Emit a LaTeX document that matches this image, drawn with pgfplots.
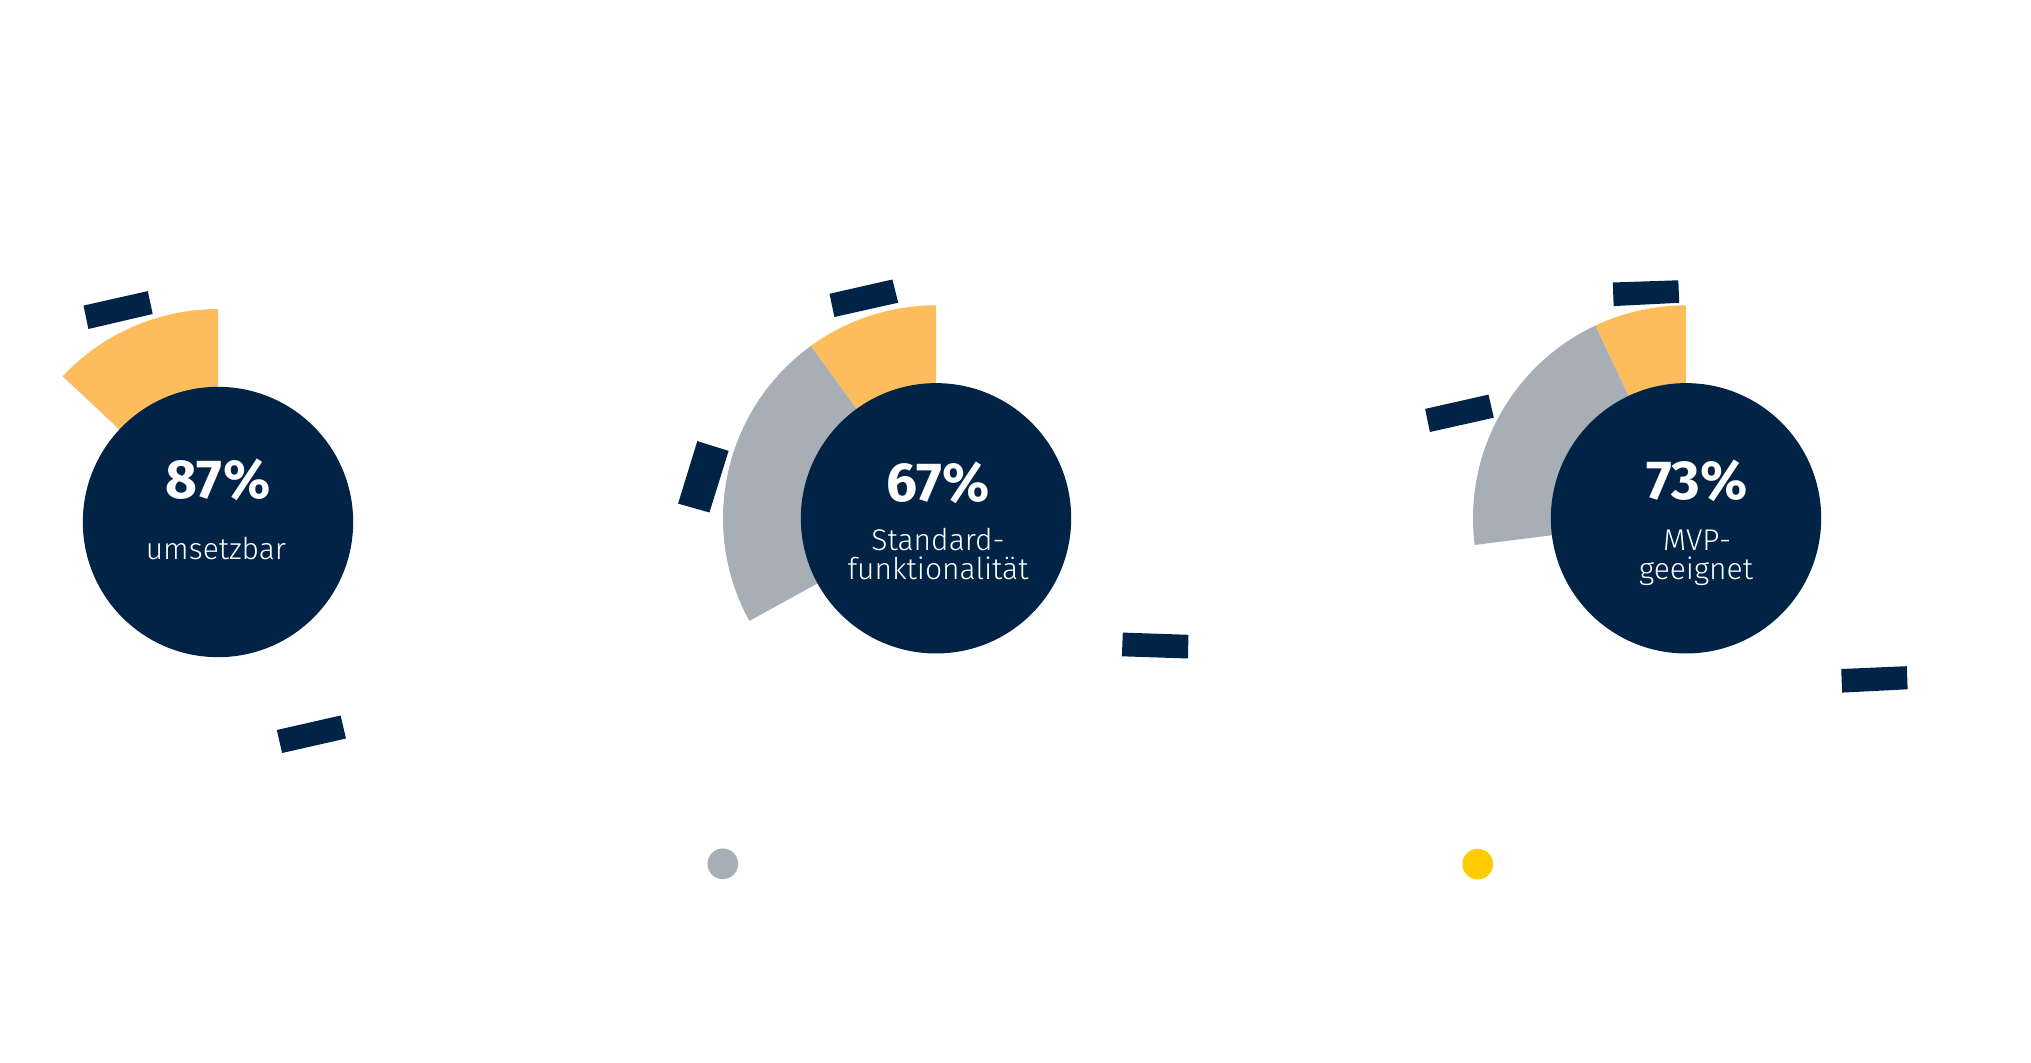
\documentclass[border=0pt]{standalone}
\usepackage{fontspec}
\setmainfont{Fira Sans}
\IfFontExistsTF{Fira Sans Light}{\newfontfamily\lightfont{Fira Sans Light}}{\newcommand\lightfont{}}
\usepackage{pgfplots}
\usepackage{pgfplotstable}
\pgfplotsset{compat=1.18}

\definecolor{navy}{RGB}{1,35,70}
\definecolor{sunorange}{RGB}{253,189,93}
\definecolor{slategrey}{RGB}{168,174,181}
\definecolor{dotyellow}{RGB}{255,204,0}

% one row per chart: centre (px, y up), remaining share split in orange and grey
\pgfplotstableread{
cx    cy     orange grey pct
218   540    13     0    87
936   543.7  10     23   67
1686  543.7  7      20   73
}\charts

\def\unit{0.3}   % pt per pixel
\def\rout{213}   % outer radius of the sectors, px

\begin{document}
\begin{tikzpicture}
\begin{axis}[
  x=\unit pt, y=\unit pt,
  xmin=0, xmax=2031, ymin=0, ymax=1062,
  hide axis, clip=false, clip mode=individual
]
\path (axis cs:0,0) rectangle (axis cs:2031,1062);

% sectors
\pgfplotsinvokeforeach{0,1,2}{
  \pgfplotstablegetelem{#1}{cx}\of\charts \let\cx\pgfplotsretval
  \pgfplotstablegetelem{#1}{cy}\of\charts \let\cy\pgfplotsretval
  \pgfplotstablegetelem{#1}{orange}\of\charts \let\po\pgfplotsretval
  \pgfplotstablegetelem{#1}{grey}\of\charts \let\pg\pgfplotsretval
  \pgfmathsetmacro\aA{90+3.6*\po}
  \pgfmathsetmacro\aB{\aA+3.6*\pg}
  \pgfmathsetmacro\R{\rout*\unit}
  \edef\doit{%
    \noexpand\fill[sunorange] (axis cs:\cx,\cy) -- ++(90:\R pt)
      arc[start angle=90, end angle=\aA, radius=\R pt] -- cycle;
    \noexpand\fill[slategrey] (axis cs:\cx,\cy) -- ++(\aA:\R pt)
      arc[start angle=\aA, end angle=\aB, radius=\R pt] -- cycle;
  }\doit
}

% inner discs
\addplot[only marks, mark=*, mark size=40.35pt, color=navy]
  table[x=cx, y=cy] {\charts};

% decorative dashes
\addplot[fill=navy, draw=none] coordinates {(83.5,756.4) (147.8,770.9) (152.7,748) (88.4,733) (83.5,756.4)};
\addplot[fill=navy, draw=none] coordinates {(276.8,332) (340.6,346.5) (346,323.5) (282.1,309) (276.8,332)};
\addplot[fill=navy, draw=none] coordinates {(829.5,768.2) (892.4,782.5) (898.2,759.3) (834.4,745) (829.5,768.2)};
\addplot[fill=navy, draw=none] coordinates {(697.3,620.9) (728.6,611.1) (709.4,549.5) (678.1,558.4) (697.3,620.9)};
\addplot[fill=navy, draw=none] coordinates {(1122.8,429.4) (1188.4,427.2) (1188,403.5) (1121.9,405.7) (1122.8,429.4)};
\addplot[fill=navy, draw=none] coordinates {(1612.8,779.5) (1678.3,781.7) (1679.2,759.2) (1613.6,755.9) (1612.8,779.5)};
\addplot[fill=navy, draw=none] coordinates {(1425.1,653.1) (1488.5,667.4) (1493.8,644.3) (1429.9,630) (1425.1,653.1)};
\addplot[fill=navy, draw=none] coordinates {(1841.2,393) (1906.8,395.8) (1907.6,372.7) (1842.1,369.4) (1841.2,393)};

% legend dots
\addplot[only marks, mark=*, mark size=4.4pt, color=slategrey] coordinates {(722.8,198.2)};
\addplot[only marks, mark=*, mark size=4.4pt, color=dotyellow] coordinates {(1477.7,197.9)};
\end{axis}

% texts, set over the discs (axis units: 0.3pt per px, origin at the axis corner)
\begin{scope}[x=\unit pt, y=\unit pt]
\tikzset{num/.style={text=white, anchor=base, font=\fontsize{16.5}{18}\selectfont\bfseries, inner sep=0pt},
         lab/.style={text=white, anchor=base, font=\fontsize{9}{10}\selectfont\lightfont, inner sep=0pt}}
\node[num] at (218,563.5) {87\%};
\node[lab] at (216,502) {umsetzbar};
\node[num] at (938,560) {67\%};
\node[lab] at (938,511.6) {Standard-};
\node[lab] at (938,482) {funktionalität};
\node[num] at (1697,562.4) {73\%};
\node[lab] at (1697,511.3) {MVP-};
\node[lab] at (1696,482) {geeignet};
\end{scope}
\end{tikzpicture}
\end{document}
